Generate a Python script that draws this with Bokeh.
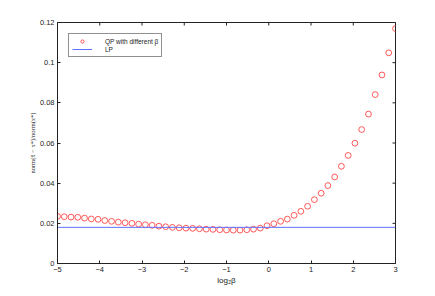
from bokeh.plotting import figure
from bokeh.models import (ColumnDataSource, FixedTicker, CustomJSTickFormatter,
                          Legend, LegendItem, Range1d)
from bokeh.embed import file_html
from bokeh.resources import INLINE
import numpy as np

# ---- data ----
log2_beta = list(np.linspace(-5, 3, 51))
qp_error = [0.0235, 0.0233, 0.0231, 0.0230, 0.0226, 0.0222, 0.0220, 0.0214, 0.0210, 0.0206,
            0.0203, 0.0200, 0.0196, 0.0193, 0.0190, 0.0186, 0.0183, 0.0180, 0.0178, 0.0176,
            0.0175, 0.0173, 0.0171, 0.0170, 0.0168, 0.0167, 0.0166, 0.0166, 0.0168, 0.0171,
            0.0176, 0.0188, 0.0198, 0.0210, 0.0221, 0.0240, 0.0260, 0.0285, 0.0318, 0.0350,
            0.0388, 0.0431, 0.0484, 0.0538, 0.0599, 0.0667, 0.0744, 0.0841, 0.0939, 0.1049,
            0.1170]
lp_error = 0.0180
x_ticks = [-5, -4, -3, -2, -1, 0, 1, 2, 3]
y_ticks = [0, 0.02, 0.04, 0.06, 0.08, 0.1, 0.12]

FONT = "Liberation Sans"
X_MIN, X_MAX = x_ticks[0], x_ticks[-1]
Y_MIN, Y_MAX = y_ticks[0], y_ticks[-1]

p = figure(width=427, height=288, output_backend="svg", toolbar_location=None,
           x_range=Range1d(X_MIN, X_MAX), y_range=Range1d(Y_MIN, Y_MAX),
           min_border_left=57, min_border_right=32, min_border_top=22, min_border_bottom=25,
           x_axis_label="log\u2082\u03b2",
           y_axis_label="norm(x\u0302 \u2212 x*)/norm(x*)")
p.xgrid.visible = False
p.ygrid.visible = False
p.outline_line_color = "#222222"
p.outline_line_width = 1
p.outline_line_alpha = 1
p.background_fill_color = "white"

fmt_x = CustomJSTickFormatter(code="return tick < 0 ? '\u2212' + (-tick) : tick.toString();")
fmt_y = CustomJSTickFormatter(code="return tick.toString();")

for ax, ticks, fmt in ((p.xaxis[0], x_ticks, fmt_x), (p.yaxis[0], y_ticks, fmt_y)):
    ax.ticker = FixedTicker(ticks=ticks)
    ax.formatter = fmt
    ax.minor_tick_line_color = None
    ax.major_tick_in = 3
    ax.major_tick_out = 0
    ax.axis_line_color = "#222222"
    ax.major_tick_line_color = "#222222"
    ax.major_label_text_font = FONT
    ax.major_label_text_font_size = "7.5px"
    ax.major_label_text_color = "#222222"
    ax.major_label_standoff = 3
    ax.axis_label_text_font_style = "normal"
    ax.axis_label_text_color = "#222222"

p.xaxis.axis_label_text_font = FONT
p.xaxis.axis_label_text_font_size = "8px"
p.xaxis.axis_label_standoff = 1
p.yaxis.axis_label_text_font = "Liberation Serif"
p.yaxis.axis_label_text_font_size = "6.5px"
p.yaxis.axis_label_standoff = 1

# tick marks on the top and right edges of the box (clipped to the frame)
p.scatter(x=x_ticks, y=[Y_MAX] * len(x_ticks), marker="dash", size=6, angle=np.pi / 2,
          line_color="#222222", line_width=1)
p.scatter(x=[X_MAX] * len(y_ticks), y=y_ticks, marker="dash", size=6,
          line_color="#222222", line_width=1)

src = ColumnDataSource(dict(x=log2_beta, y=qp_error))
qp = p.scatter("x", "y", source=src, marker="circle", size=5.8, fill_color=None,
               line_color="#ff3030", line_width=0.8)
lp = p.line(x=[log2_beta[0], log2_beta[-1]], y=[lp_error, lp_error],
            line_color="#5f72ff", line_width=1)

legend = Legend(items=[LegendItem(label="QP with different \u03b2", renderers=[qp]),
                       LegendItem(label="LP", renderers=[lp])],
                location="top_left", margin=11, padding=3, spacing=0,
                glyph_width=20, glyph_height=8, label_height=8, label_standoff=13,
                label_text_font=FONT, label_text_font_size="6.5px",
                label_text_color="#222222",
                border_line_color="#222222", border_line_width=1,
                background_fill_alpha=1)
p.add_layout(legend, "center")

open("out.html", "w").write(file_html(p, INLINE))
